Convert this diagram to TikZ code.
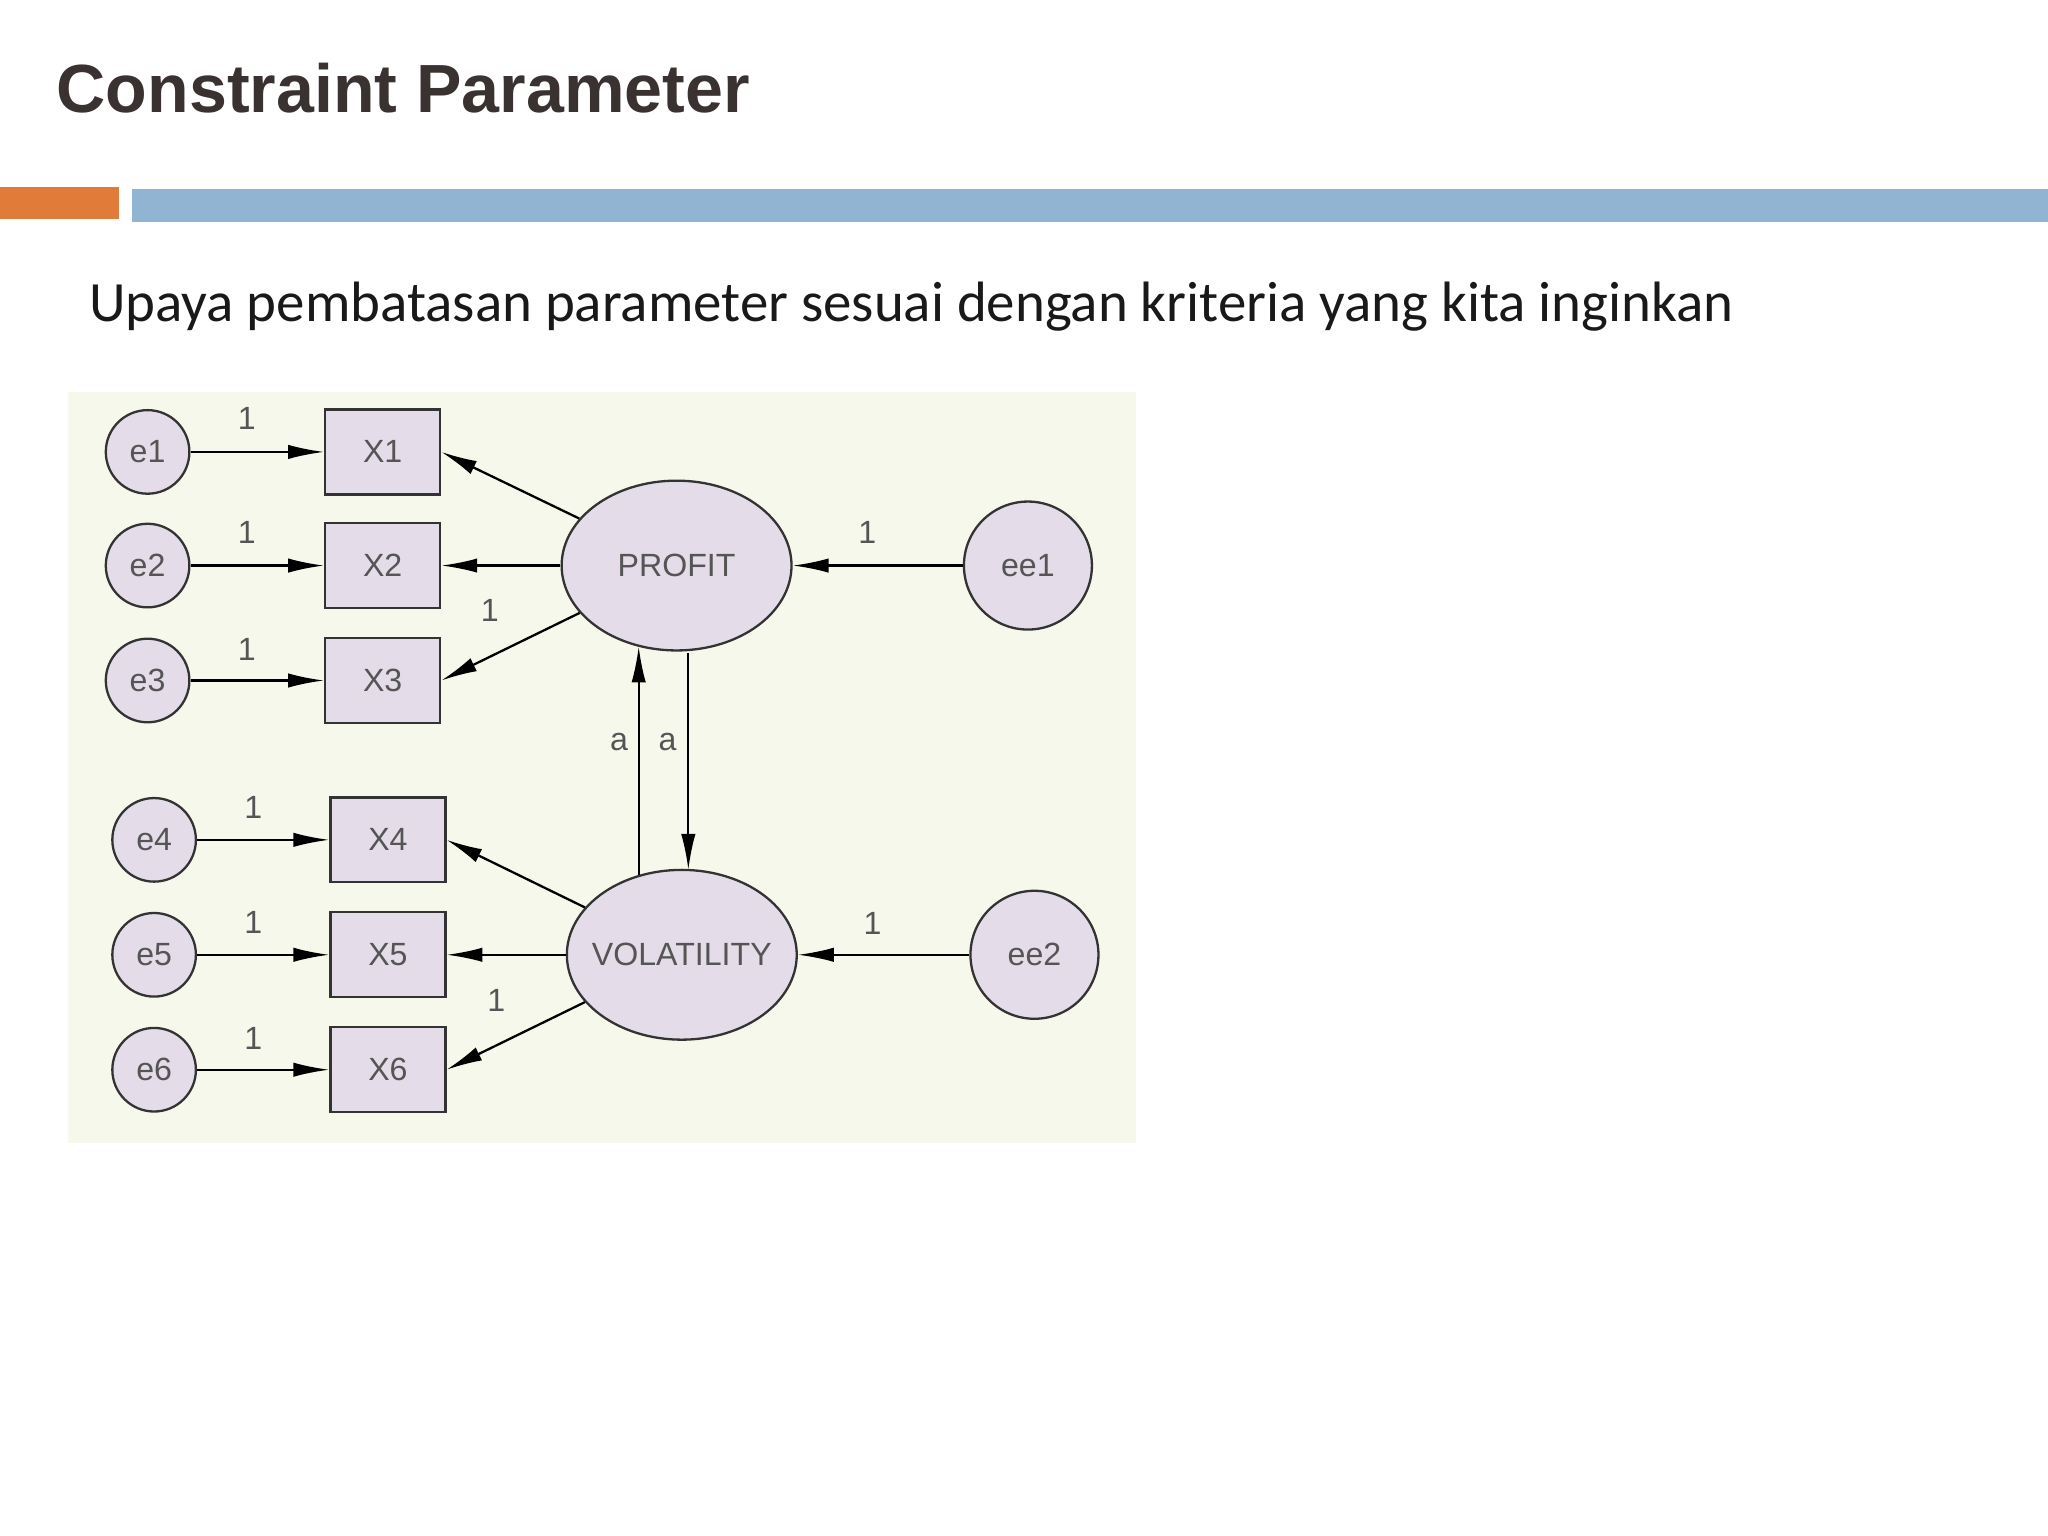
\documentclass[tikz,border=0pt]{standalone}
\usepackage{fontspec}
\setmainfont{Liberation Sans}
\newfontfamily\subfont{Carlito}
\usetikzlibrary{arrows.meta,shapes.geometric}
\definecolor{titlec}{HTML}{3A3230}
\definecolor{orangebar}{HTML}{E07B39}
\definecolor{bluebar}{HTML}{92B4D3}
\definecolor{bgc}{HTML}{F7F8EC}
\definecolor{nodefill}{HTML}{E4DCE8}
\definecolor{txt}{HTML}{555555}
\begin{document}
\begin{tikzpicture}[x=0.02cm,y=-0.02cm,
  err/.style={circle,draw=black!80,line width=1pt,fill=nodefill,minimum size=64*0.02cm,inner sep=0,font=\fontsize{14}{16}\selectfont,text=txt},
  bigerr/.style={err,minimum size=98*0.02cm},
  obs/.style={rectangle,draw=black!80,line width=1pt,fill=nodefill,minimum width=88*0.02cm,minimum height=65*0.02cm,inner sep=0,font=\fontsize{14}{16}\selectfont,text=txt},
  lat/.style={ellipse,draw=black!80,line width=1pt,fill=nodefill,minimum width=176*0.02cm,minimum height=130*0.02cm,inner sep=-12pt,font=\fontsize{14}{16}\selectfont,text=txt},
  arr/.style={line width=1pt,-{Latex[length=0.55cm,width=0.22cm]}},
  lbl/.style={font=\fontsize{14}{16}\selectfont,text=txt,inner sep=1pt}]
\useasboundingbox (0,0) rectangle (1568,1176);
\fill[white] (0,0) rectangle (1568,1176);
\node[anchor=base west,inner sep=0,text=titlec,font=\bfseries\fontsize{29.7}{33}\selectfont] (title) at (43,86) {Constraint Parameter};
\fill[orangebar] (0,143) rectangle (91,168);
\fill[bluebar] (101,145) rectangle (1568,170);
\node[anchor=base west,inner sep=0,font=\subfont\fontsize{24.8}{28}\selectfont,text=black!90] (sub) at (68,246) {Upaya pembatasan parameter sesuai dengan kriteria yang kita inginkan};
\fill[bgc] (52,300) rectangle (870,875);
% nodes
\node[err] (e1) at (113,346) {e1};
\node[err] (e2) at (113,433) {e2};
\node[err] (e3) at (113,521) {e3};
\node[err] (e4) at (118,643) {e4};
\node[err] (e5) at (118,731) {e5};
\node[err] (e6) at (118,819) {e6};
\node[obs] (x1) at (293,346) {X1};
\node[obs] (x2) at (293,433) {X2};
\node[obs] (x3) at (293,521) {X3};
\node[obs] (x4) at (297,643) {X4};
\node[obs] (x5) at (297,731) {X5};
\node[obs] (x6) at (297,819) {X6};
\node[lat] (p) at (518,433) {PROFIT};
\node[lat] (v) at (522,731) {VOLATILITY};
\node[bigerr] (ee1) at (787,433) {ee1};
\node[bigerr] (ee2) at (792,731) {ee2};
% arrows
\foreach \a/\b in {e1/x1,e2/x2,e3/x3,e4/x4,e5/x5,e6/x6}{\draw[arr] (\a) -- (\b);}
\draw[arr] (p) -- (x1.east);
\draw[arr] (p) -- (x2);
\draw[arr] (p) -- (x3.east);
\draw[arr] (v) -- (x4.east);
\draw[arr] (v) -- (x5);
\draw[arr] (v) -- (x6.east);
\draw[arr] (ee1) -- (p);
\draw[arr] (ee2) -- (v);
\coordinate (pa) at (489,495); \coordinate (va) at (489,670);
\coordinate (pb) at (527,500); \coordinate (vb) at (527,666);
\draw[arr] (va) -- (pa);
\draw[arr] (pb) -- (vb);
% labels
\foreach \y in {320,408,497}{\node[lbl] at (189,\y) {1};}
\foreach \y in {618,706,795}{\node[lbl] at (194,\y) {1};}
\node[lbl] at (375,467) {1};
\node[lbl] at (380,766) {1};
\node[lbl] at (664,408) {1};
\node[lbl] at (668,707) {1};
\node[lbl] at (474,568) {a};
\node[lbl] at (511,568) {a};
\end{tikzpicture}
\end{document}
